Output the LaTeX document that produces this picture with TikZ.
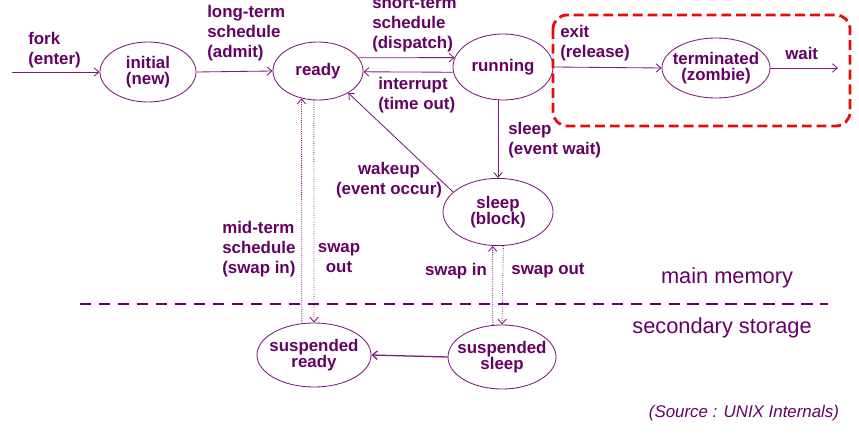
\documentclass[tikz,border=0pt]{standalone}
\usepackage{fontspec}
\setmainfont{Liberation Sans}
\usepackage{tikz}
\usetikzlibrary{positioning}
\usetikzlibrary {arrows.meta}
\usetikzlibrary{shapes.geometric}
\definecolor{txtpurple}{RGB}{102,0,102}
\definecolor{linepurple}{RGB}{122,26,122}
\definecolor{boxred}{RGB}{235,10,10}

\begin{document}
\begin{tikzpicture}[x=0.025cm,y=-0.025cm,
	state/.style={ellipse,draw=linepurple,line width=0.6pt,text=txtpurple,inner sep=-30pt,align=center,font=\bfseries\fontsize{12}{11.5}\selectfont},
	lbl/.style={text=txtpurple,inner sep=0,align=left,font=\bfseries\fontsize{12}{14}\selectfont},
	arr/.style={draw=linepurple,line width=0.6pt,-{Straight Barb[length=3.5pt,width=6pt]}},
	swp/.style={arr,densely dotted}]
		\useasboundingbox (0,0) rectangle (859,439);
		
		\node[state,minimum width=2.4cm,minimum height=1.5cm] (init) at (148,72) {initial\\(new)};
		\node[state,minimum width=2.25cm,minimum height=1.45cm] (ready) at (318,71) {ready};
		\node[state,minimum width=2.5cm,minimum height=1.65cm] (run) at (503,67) {running};
		\node[state,minimum width=2.7cm,minimum height=1.5cm] (term) at (716,68) {terminated\\(zombie)};
		\node[state,minimum width=2.75cm,minimum height=1.68cm] (sleep) at (498,212) {sleep\\(block)};
		\node[state,minimum width=2.85cm,minimum height=1.6cm] (sready) at (314,355) {suspended\\ready};
		\node[state,minimum width=2.7cm,minimum height=1.6cm] (ssleep) at (502,357) {suspended\\sleep};
		\coordinate (forkin) at (12,72);
		\coordinate (waitout) at (838,68);
		
		\draw[boxred,line width=2pt,dash pattern=on 7pt off 3.5pt,rounded corners=10pt] (553,15) rectangle (850,126);
		\draw[txtpurple,line width=2.1pt,dash pattern=on 8pt off 5.5pt] (80,304) -- (828,304);
		
		\draw[arr] (forkin) -- (init.west);
		\draw[arr] (init.east) -- (ready.west);
		\draw[arr] (ready.18) -- (run.169);
		\draw[arr] (run.186) -- (ready.359);
		\draw[arr] (run.east) -- (term.west);
		\draw[arr] (term.east) -- (waitout);
		\draw[arr] (sleep.north |- run.south) -- (sleep.north);
		\draw[arr] (sleep.156) -- (ready.-36);
		\draw[swp] (sready.111) -- (ready.239);
		\draw[swp] (ready.262) -- (sready.north);
		\draw[swp] (ssleep.106) -- (sleep.261);
		\draw[swp] (sleep.279) -- (ssleep.north);
		\draw[arr,line width=0.9pt] (ssleep.west) -- (sready.east);
		
		\node[lbl,anchor=west] (forklbl) at (28,50) {fork\\(enter)};
		\node[lbl,anchor=west] (admitlbl) at (207,33) {long-term\\schedule\\(admit)};
		\node[lbl,anchor=west] (dispatchlbl) at (372,24) {short-term\\schedule\\(dispatch)};
		\node[lbl,anchor=west] (timeoutlbl) at (378,95) {interrupt\\(time out)};
		\node[lbl,anchor=west] (exitlbl) at (560,43) {exit\\(release)};
		\node[lbl,anchor=west] (waitlbl) at (785,53) {wait};
		\node[lbl,anchor=west] (eventwaitlbl) at (508,140) {sleep\\(event wait)};
		\node[lbl,align=center] (wakeuplbl) at (389,180) {wakeup\\(event occur)};
		\node[lbl,anchor=west] (swapinlbl) at (222,249) {mid-term\\schedule\\(swap in)};
		\node[lbl,align=center] (swapoutlbl) at (339,258) {swap\\out};
		\node[lbl] (sleepinlbl) at (456,271) {swap in};
		\node[lbl] (sleepoutlbl) at (548,271) {swap out};
		
		\node[text=txtpurple,font=\fontsize{15.5}{18}\selectfont] (mainmem) at (727,278) {main memory};
		\node[text=txtpurple,font=\fontsize{15.5}{18}\selectfont] (secstore) at (722,328) {secondary storage};
		\node[text=txtpurple,font=\itshape\fontsize{12}{14}\selectfont] (source) at (744,413) {(Source : UNIX Internals)};
	\end{tikzpicture}
\end{document}
